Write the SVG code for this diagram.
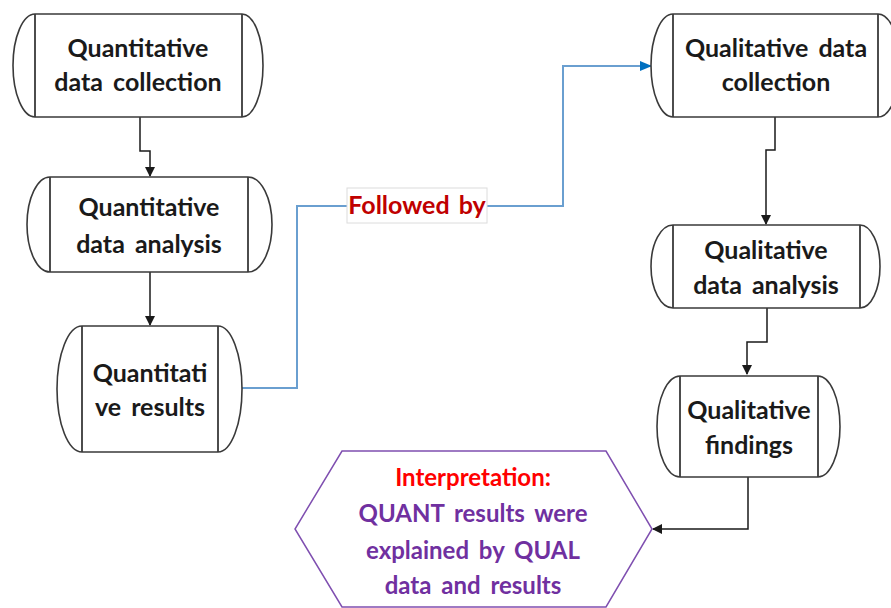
<svg xmlns="http://www.w3.org/2000/svg" width="891" height="608" viewBox="0 0 891 608">
<defs>
<style>
.box{fill:#fff;stroke:#3a3a3a;stroke-width:1.6}
.in{fill:none;stroke:#3a3a3a;stroke-width:1.8}
.t{font-family:Lato,"Open Sans","Liberation Sans",sans-serif;font-weight:700;font-size:25px;fill:#1a1a1a;text-anchor:middle;word-spacing:4px}
.c{fill:none;stroke:#1a1a1a;stroke-width:1.5}
.b{fill:none;stroke:#6a9fd0;stroke-width:2}
.h{font-family:Lato,"Open Sans","Liberation Sans",sans-serif;font-weight:700;font-size:24px;text-anchor:middle;word-spacing:4px}
</style>
<marker id="ak" markerWidth="10" markerHeight="10" refX="9" refY="5" orient="auto" markerUnits="userSpaceOnUse"><path d="M0,0 L10,5 L0,10 Z" fill="#1a1a1a"/></marker>
<marker id="ab" markerWidth="12" markerHeight="10" refX="11" refY="5" orient="auto" markerUnits="userSpaceOnUse"><path d="M0,0 L12,5 L0,10 Z" fill="#0070c0"/></marker>
</defs>
<rect width="891" height="608" fill="#fff"/>
<g id="connectors">
<path class="c" d="M140,117 V151 H150 V176" marker-end="url(#ak)"/>
<path class="c" d="M150,272 V325" marker-end="url(#ak)"/>
<path class="b" d="M242,388 H297 V206 H347 M487,206 H563 V66 H651" marker-end="url(#ab)"/>
<path class="c" d="M775,117 V150 H766 V224" marker-end="url(#ak)"/>
<path class="c" d="M767,308 V342 H747 V374" marker-end="url(#ak)"/>
<path class="c" d="M748,477 V529 H653" marker-end="url(#ak)"/>
</g>
<g id="label-followed">
<rect x="347" y="188" width="140" height="35" fill="#fff" stroke="#dcdcdc" stroke-width="1"/>
<text class="h" x="417" y="214" fill="#c00000" style="font-size:25px;word-spacing:3px">Followed by</text>
</g>
<g id="n1">
<path class="box" d="M35,14 H242 A21,51.5 0 0 1 242,117 H35 A22,51.5 0 0 1 35,14 Z"/>
<path class="in" d="M35,14 V117 M242,14 V117"/>
<text class="t" x="138" y="57">Quantitative</text>
<text class="t" x="138" y="91">data collection</text>
</g>
<g id="n2">
<path class="box" d="M50,177 H248 A24,47.5 0 0 1 248,272 H50 A23,47.5 0 0 1 50,177 Z"/>
<path class="in" d="M50,177 V272 M248,177 V272"/>
<text class="t" x="149" y="216">Quantitative</text>
<text class="t" x="149" y="253">data analysis</text>
</g>
<g id="n3">
<path class="box" d="M82,326 H218 A24,63 0 0 1 218,452 H82 A25,63 0 0 1 82,326 Z"/>
<path class="in" d="M82,326 V452 M218,326 V452"/>
<text class="t" x="150" y="382">Quantitati</text>
<text class="t" x="150" y="416">ve results</text>
</g>
<g id="n4">
<path class="box" d="M673,14 H878 A22,51.5 0 0 1 878,117 H673 A22,51.5 0 0 1 673,14 Z"/>
<path class="in" d="M673,14 V117 M878,14 V117"/>
<text class="t" x="776" y="57">Qualitative data</text>
<text class="t" x="776" y="91">collection</text>
</g>
<g id="n5">
<path class="box" d="M673,225 H860 A20,41.5 0 0 1 860,308 H673 A22,41.5 0 0 1 673,225 Z"/>
<path class="in" d="M673,225 V308 M860,225 V308"/>
<text class="t" x="766" y="259">Qualitative</text>
<text class="t" x="766" y="294">data analysis</text>
</g>
<g id="n6">
<path class="box" d="M680,376 H818 A22,50.5 0 0 1 818,477 H680 A23,50.5 0 0 1 680,376 Z"/>
<path class="in" d="M680,376 V477 M818,376 V477"/>
<text class="t" x="749" y="419">Qualitative</text>
<text class="t" x="749" y="454">findings</text>
</g>
<g id="interpretation">
<path d="M342,451 H606 L652,529 L606,607 H342 L295,529 Z" fill="#fff" stroke="#7f4fb0" stroke-width="1.5"/>
<text class="h" x="473" y="486" fill="#ff0000">Interpretation:</text>
<text class="h" x="473" y="522" fill="#7030a0">QUANT results were</text>
<text class="h" x="473" y="559" fill="#7030a0">explained by QUAL</text>
<text class="h" x="473" y="594" fill="#7030a0">data and results</text>
</g>
</svg>
